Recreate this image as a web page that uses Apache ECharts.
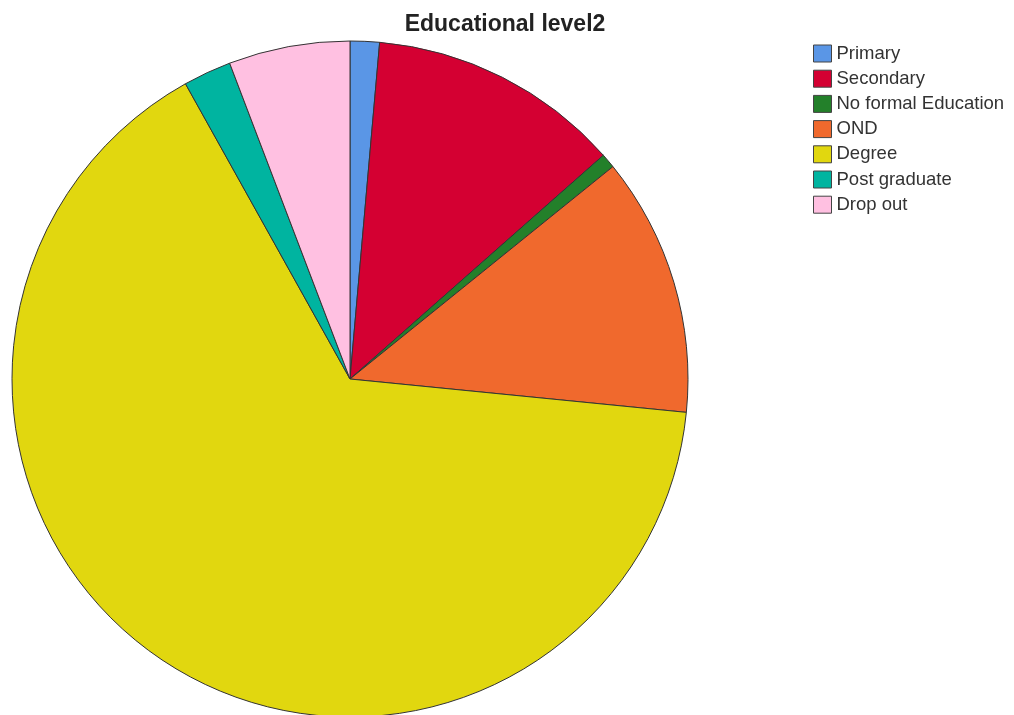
<!DOCTYPE html>
<html>
<head>
<meta charset="utf-8">
<script src="https://cdn.jsdelivr.net/npm/echarts@6/dist/echarts.min.js"></script>
<style>html,body{margin:0;padding:0;background:#fff}#c{width:1014px;height:715px}</style>
</head>
<body>
<div id="c"></div>
<script>
const categories = ["Primary", "Secondary", "No formal Education", "OND", "Degree", "Post graduate", "Drop out"];
const values = [1.4, 12.1, 0.7, 12.4, 65.4, 2.3, 5.8];
const colors = ["#5a96e6", "#d40032", "#23802a", "#f0692d", "#e1d70f", "#00b4a0", "#ffc0e1"];

const chart = echarts.init(document.getElementById('c'));
chart.setOption({
  animation: false,
  title: {
    text: 'Educational level2',
    left: 500, top: 8, textAlign: 'center',
    textStyle: {fontFamily: 'Liberation Sans, Arial', fontWeight: 'bold', fontSize: 23, color: '#222'}
  },
  legend: {
    orient: 'vertical', left: 808, top: 39,
    itemWidth: 18, itemHeight: 17, itemGap: 6.2,
    icon: 'rect',
    itemStyle: {borderColor: '#444', borderWidth: 1},
    textStyle: {fontFamily: 'Liberation Sans, Arial', fontSize: 18.5, lineHeight: 17, color: '#333', padding: [0,0,0,0]},
    data: categories
  },
  series: [{
    type: 'pie',
    center: [350, 379],
    radius: 338,
    startAngle: 90,
    clockwise: true,
    label: {show: false},
    labelLine: {show: false},
    emphasis: {disabled: true},
    itemStyle: {borderColor: '#333', borderWidth: 1},
    data: categories.map((c, i) => ({name: c, value: values[i], itemStyle: {color: colors[i]}}))
  }]
});
</script>
</body>
</html>
